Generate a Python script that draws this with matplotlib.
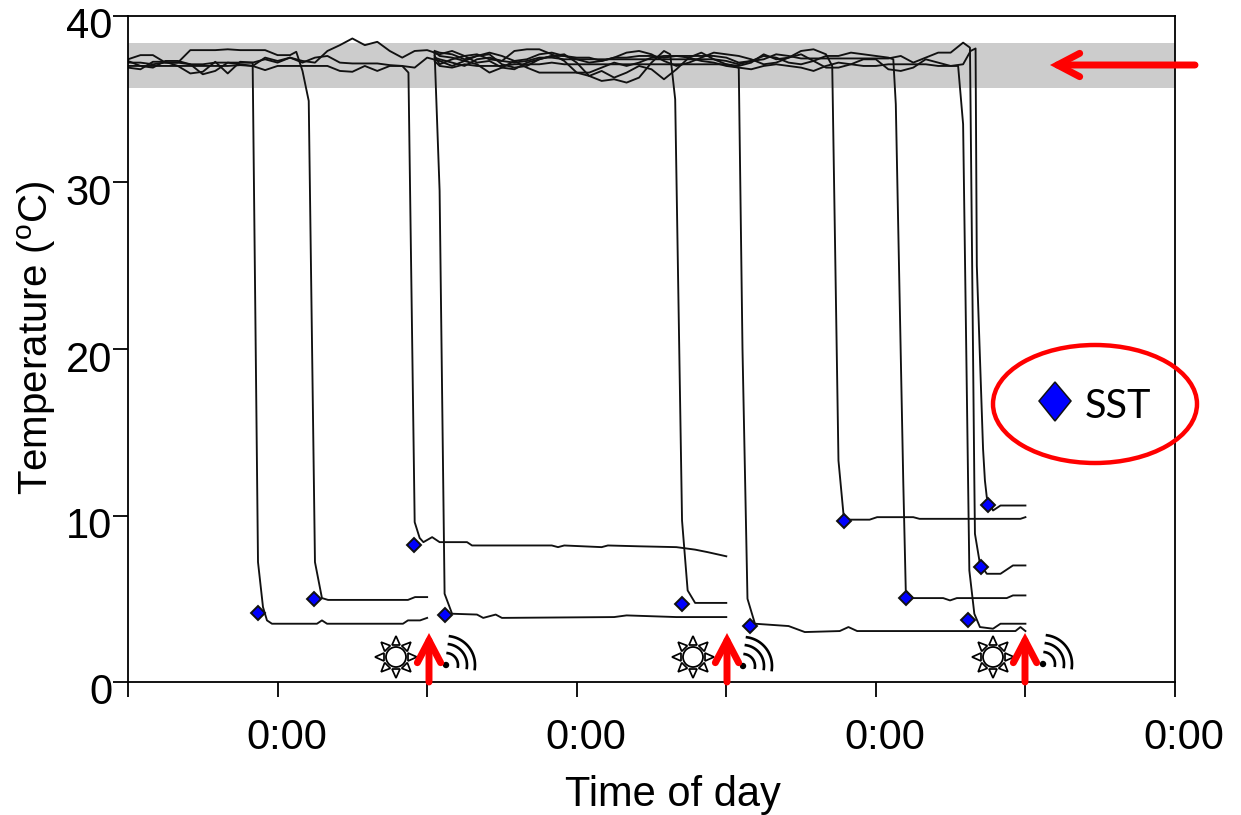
# Body temperature tracks, dropping to SST once the tag comes off
import numpy as np
import matplotlib
matplotlib.use('Agg')
import matplotlib.pyplot as plt
from matplotlib.patches import Circle, Ellipse, Polygon
from matplotlib.transforms import ScaledTranslation

plt.rcParams['font.family'] = ['Liberation Sans', 'DejaVu Sans']

# hours from the left edge, temperature in deg C
# (start hour, hourly values up in the band, then the drop and the tail)
track1_start = 0
track1_upper = [36.9, 36.8, 37.25, 37.25, 37.0, 36.55, 36.65, 37.25, 36.55, 37.25, 37.2]
track1_tail_t = [10.43, 10.83, 11.15, 11.55, 15.16, 15.56, 15.97, 22.06, 22.46, 23.43, 24.0]
track1_tail_y = [7.2, 4.5, 3.7, 3.5, 3.5, 3.7, 3.5, 3.5, 3.7, 3.7, 3.85]

track2_start = 0
track2_upper = [37.4, 37.65, 37.65, 37.2, 37.2, 37.95, 37.95, 37.95, 38.0, 37.95, 37.95, 37.95, 37.65, 37.65]
track2_tail_t = [13.5, 14.0, 14.5, 15.0, 15.56, 16.05, 22.46, 23.03, 24.0]
track2_tail_y = [37.85, 36.7, 34.9, 7.2, 5.04, 4.93, 4.93, 5.1, 5.1]

track3_start = 0
track3_upper = [37.0, 37.0, 37.0, 37.0, 37.0, 37.0, 37.0, 37.0, 37.0, 37.05, 37.0, 36.75,
                37.0, 37.0, 37.0, 37.0, 37.0, 36.7, 36.65, 37.0, 36.7, 37.0, 37.0]
track3_tail_t = [22.5, 23.0, 23.4, 23.7, 24.4, 25.0, 27.2, 27.6, 34.0, 34.5, 35.0, 38.0, 38.5, 41.0, 44.0, 45.0, 45.5, 46.5, 48.0]
track3_tail_y = [36.6, 9.6, 8.65, 8.4, 8.7, 8.4, 8.4, 8.2, 8.2, 8.1, 8.2, 8.1, 8.2, 8.15, 8.1, 8.0, 7.95, 7.8, 7.55]

track4_start = 0
track4_upper = [37.2, 37.2, 37.1, 37.2, 37.2, 37.1, 37.1, 37.2, 37.2, 37.2, 37.2, 37.4, 37.2,
                37.5, 37.3, 37.2, 37.9, 38.25, 38.65, 38.25, 38.45, 37.9, 37.5, 37.9, 37.95]
track4_tail_t = [24.6, 25.0, 25.4, 26.0, 28.0, 28.5, 29.5, 30.0, 39.0, 40.0, 44.0, 48.0]
track4_tail_y = [37.8, 29.5, 5.3, 4.1, 4.05, 3.85, 4.05, 3.85, 3.9, 4.0, 3.9, 3.9]

track5_start = 25
track5_upper = [37.6, 37.5, 37.3, 37.6, 37.7, 37.1, 36.9, 37.0, 37.4, 37.6, 37.7, 37.2, 36.4,
                36.1, 36.2, 36.0, 36.3, 37.2, 37.9]
track5_tail_t = [43.5, 43.9, 44.45, 44.9, 45.5, 48.0]
track5_tail_y = [37.7, 35.0, 9.7, 5.5, 4.75, 4.75]

track6_start = 0
track6_upper = [37.3, 37.0, 36.9, 37.3, 37.3, 37.1, 36.5, 36.7, 37.2, 37.1, 37.0, 37.5, 37.3,
                37.5, 37.2, 37.5, 37.6, 37.2, 37.15, 37.15, 37.15, 37.05, 37.0, 36.9, 37.5,
                37.3, 37.0, 37.3, 37.1, 36.6, 36.9, 37.3, 36.9, 36.6, 36.6, 36.6, 36.6, 36.6,
                36.9, 37.2, 37.0, 37.2, 37.5, 37.6, 37.6, 37.5, 37.3, 37.2, 37.0, 36.9]
track6_tail_t = [49.3, 49.7, 50.3, 53.0, 54.3, 57.1, 57.8, 58.5, 71.2, 71.6, 72.0]
track6_tail_y = [20.0, 5.0, 3.5, 3.36, 3.0, 3.06, 3.3, 3.06, 3.06, 3.3, 3.06]

track7_start = 25
track7_upper = [37.7, 37.9, 37.6, 37.7, 37.4, 37.3, 37.9, 38.0, 38.0, 37.7, 37.3, 36.6, 36.4,
                36.7, 36.3, 36.6, 37.0, 36.8, 36.2, 36.8, 37.5, 37.8, 37.4, 37.1, 37.0, 37.2,
                37.7, 37.4, 37.5, 37.9, 38.0, 37.7]
track7_tail_t = [56.5, 57.0, 57.45, 57.9, 59.5, 60.1, 63.0, 63.5, 71.6, 72.0]
track7_tail_y = [37.0, 13.3, 9.7, 9.75, 9.75, 9.9, 9.9, 9.8, 9.8, 9.9]

track8_start = 25
track8_upper = [37.1, 37.4, 37.6, 37.2, 37.3, 36.9, 36.8, 37.2, 37.4, 37.6, 37.6, 37.5, 37.5,
                37.3, 37.5, 37.5, 37.6, 37.6, 37.5, 37.6, 37.6, 37.6, 37.6, 37.5, 37.2, 37.3,
                37.6, 37.5, 37.2, 37.1, 37.3, 37.6, 37.6, 37.8, 37.7, 37.6, 37.5]
track8_tail_t = [61.4, 61.6, 62.2, 62.4, 63.0, 65.4, 65.95, 66.5, 70.5, 71.0, 72.0]
track8_tail_y = [37.4, 34.7, 12.0, 5.5, 5.04, 5.04, 4.9, 5.04, 5.04, 5.2, 5.2]

track9_start = 25
track9_upper = [37.0, 36.9, 37.1, 37.0, 37.0, 37.0, 37.1, 37.1, 37.1, 37.2, 37.1, 37.1, 37.1,
                37.1, 37.1, 37.1, 37.1, 37.1, 37.1, 37.1, 37.1, 37.1, 37.1, 37.1, 36.9, 36.8,
                37.0, 37.1, 37.0, 36.9, 36.7, 37.0, 37.2, 37.1, 37.0, 37.0, 37.1, 37.1, 37.1,
                37.1, 37.0, 37.0]
track9_tail_t = [66.6, 67.0, 67.4, 67.5, 67.9, 68.35, 69.4, 70.0, 72.0]
track9_tail_y = [37.0, 33.5, 12.0, 6.7, 4.1, 3.3, 3.2, 3.5, 3.5]

track10_start = 25
track10_upper = [37.4, 37.2, 37.0, 37.4, 37.5, 37.3, 37.2, 37.3, 37.5, 37.5, 37.4, 37.4, 37.4,
                 37.4, 37.4, 37.4, 37.4, 37.4, 37.4, 37.4, 37.4, 37.4, 37.4, 37.3, 37.1, 37.3,
                 37.4, 37.7, 37.6, 37.45, 37.45, 37.45, 37.45, 37.45, 37.45, 37.45, 37.45,
                 37.6, 37.2, 37.5, 37.8, 37.8]
track10_tail_t = [67.0, 67.55, 67.9, 67.95, 68.35, 68.9, 70.0, 71.0, 72.0]
track10_tail_y = [38.4, 38.1, 12.1, 8.9, 7.1, 6.5, 6.5, 7.0, 7.0]

track11_start = 25
track11_upper = [37.8, 37.7, 37.4, 37.6, 37.8, 37.6, 37.3, 37.4, 37.7, 37.8, 37.6, 37.4, 37.2,
                 37.3, 37.5, 37.8, 37.9, 37.7, 37.3, 37.0, 37.2, 37.5, 37.8, 37.7, 37.6, 37.4,
                 37.1, 37.2, 37.5, 37.7, 37.3, 36.9, 36.9, 37.1, 37.4, 37.4, 36.8, 36.7, 36.9,
                 37.4, 37.2, 37.0, 37.1]
track11_tail_t = [67.6, 68.0, 68.1, 68.6, 68.75, 68.9, 69.4, 70.0, 72.0]
track11_tail_y = [37.9, 38.05, 25.0, 14.0, 12.1, 11.1, 10.3, 10.6, 10.6]

# the later tracks all begin just after the first release
group2_t = 24.6
group2_first = [37.85, 37.75, 37.6, 37.3, 37.5, 37.9]

# SST at each drop
sst_t = [10.43, 14.92, 22.95, 25.43, 44.45, 49.9, 57.45, 62.42, 67.39, 68.44, 69.0]
sst_y = [4.14, 4.98, 8.23, 4.02, 4.68, 3.36, 9.67, 5.05, 3.72, 6.9, 10.63]

band_low = 35.7
band_high = 38.4

x_ticks = [0, 12, 24, 36, 48, 60, 72, 84]
x_labels = ['', '0:00', '', '0:00', '', '0:00', '', '0:00']
y_ticks = [0, 10, 20, 30, 40]

# overlay drawings, in picture pixels
arrow_x = [428, 726, 1024]
sun_x = [396, 693, 993]
wifi_x = [446, 743, 1043]
wifi_y = [665, 666, 664]

tracks = [
    (track1_start, track1_upper, track1_tail_t, track1_tail_y),
    (track2_start, track2_upper, track2_tail_t, track2_tail_y),
    (track3_start, track3_upper, track3_tail_t, track3_tail_y),
    (track4_start, track4_upper, track4_tail_t, track4_tail_y),
    (track5_start, track5_upper, track5_tail_t, track5_tail_y),
    (track6_start, track6_upper, track6_tail_t, track6_tail_y),
    (track7_start, track7_upper, track7_tail_t, track7_tail_y),
    (track8_start, track8_upper, track8_tail_t, track8_tail_y),
    (track9_start, track9_upper, track9_tail_t, track9_tail_y),
    (track10_start, track10_upper, track10_tail_t, track10_tail_y),
    (track11_start, track11_upper, track11_tail_t, track11_tail_y),
]

W, H = 1241, 815
fig = plt.figure(figsize=(W / 100, H / 100), dpi=100)
ax = fig.add_axes([128 / W, 1 - 682 / H, (1175 - 128) / W, (682 - 16) / H])

ax.axhspan(band_low, band_high, color='#cccccc', lw=0, zorder=0)

k = 0
for start, upper, tail_t, tail_y in tracks:
    t = list(start + np.arange(len(upper))) + tail_t
    y = list(upper) + tail_y
    if start > 0:
        t = [group2_t] + t
        y = [group2_first[k]] + y
        k += 1
    ax.plot(t, y, color='#111111', lw=1.35, zorder=2)

ax.plot(sst_t, sst_y, ls='none', marker='D', ms=6.8, mfc='#0000ff', mec='#111111', mew=1.4, zorder=3)

ax.set_xlim(0, 84)
ax.set_ylim(0, 40)
ax.set_xticks(x_ticks)
ax.set_xticklabels(x_labels)
ax.set_yticks(y_ticks)
ax.tick_params(axis='both', direction='out', length=11, width=1.3, labelsize=30)
ax.tick_params(axis='x', pad=15)
ax.tick_params(axis='y', pad=0.5)
for s in ax.spines.values():
    s.set_linewidth(1.3)

# the tick labels sit a little off their ticks in the original
for lab in ax.get_xticklabels():
    lab.set_transform(lab.get_transform() + ScaledTranslation(9 / 100, 0, fig.dpi_scale_trans))
for lab in ax.get_yticklabels():
    lab.set_transform(lab.get_transform() + ScaledTranslation(0, -7 / 100, fig.dpi_scale_trans))

ax.set_xlabel('Time of day', fontsize=30)
ax.set_ylabel('Temperature ($\\mathregular{^{o}}$C)', fontsize=29)
ax.xaxis.set_label_coords(0.5205, -0.14)
ax.yaxis.set_label_coords(-0.067, 0.5165)

# arrows, suns, signal symbols, legend
over = fig.add_axes([0, 0, 1, 1])
over.set_xlim(0, W)
over.set_ylim(H, 0)
over.axis('off')
over.patch.set_alpha(0)

red = '#ff0000'


def redArrow(x0, y0, x1, y1):
    over.annotate('', xy=(x1, y1), xytext=(x0, y0),
                  arrowprops=dict(arrowstyle='->,head_length=0.8,head_width=0.42', color=red, lw=5,
                                  mutation_scale=20, shrinkA=0, shrinkB=0, capstyle='round',
                                  joinstyle='miter'))


def sun(cx, cy):
    for a in np.arange(8) * np.pi / 4:
        d = np.array([np.cos(a), np.sin(a)])
        n = np.array([-d[1], d[0]])
        c = np.array([cx, cy])
        pts = [c + d * 12 + n * 4, c + d * 12 - n * 4, c + d * 21]
        over.add_patch(Polygon(pts, closed=True, fc='white', ec='black', lw=1.25))
    over.add_patch(Circle((cx, cy), 10, fc='white', ec='black', lw=1.3))


def signal(cx, cy):
    over.add_patch(Circle((cx, cy), 3.2, fc='black', ec='none'))
    a = np.radians(np.linspace(-82, 8, 30))
    for r in [12, 21, 29]:
        over.plot(cx + r * np.cos(a), cy + r * np.sin(a), color='black', lw=1.9)


for x in sun_x:
    sun(x, 657)
for x, y in zip(wifi_x, wifi_y):
    signal(x, y)
for x in arrow_x:
    redArrow(x + 1, 682, x + 1, 633)
redArrow(1195, 65, 1050, 65)

over.add_patch(Ellipse((1095, 404), 204, 118, fc='none', ec=red, lw=3.2))
over.add_patch(Polygon([(1055, 382), (1071, 401), (1055, 421), (1039, 401)], closed=True,
                       fc='#0000ff', ec='#111111', lw=1.1))
over.text(1085, 407, 'SST', fontsize=28.5, family=['Lato', 'DejaVu Sans'], va='center', ha='left')

fig.savefig('out.png', dpi=100)
